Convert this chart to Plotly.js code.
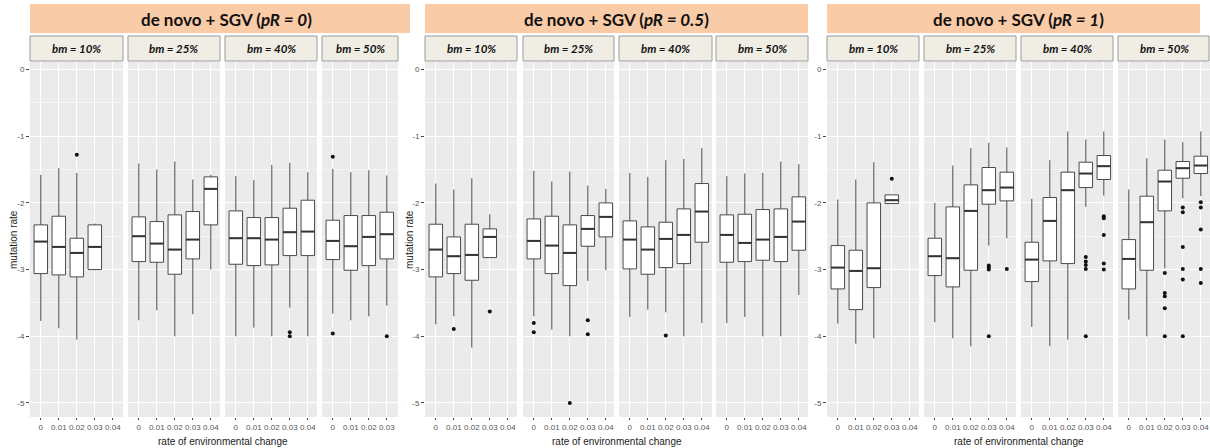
<!DOCTYPE html>
<html>
<head>
<meta charset="utf-8">
<script src="https://cdn.plot.ly/plotly-3.0.1.min.js"></script>
<style>html,body{margin:0;padding:0;background:#fff;}#chart{width:1210px;height:448px;}</style>
</head>
<body>
<div id="chart"></div>
<script>
// ---------- DATA ----------
const envRates = ['0', '0.01', '0.02', '0.03', '0.04'];
const bmLabels = ['bm = 10%', 'bm = 25%', 'bm = 40%', 'bm = 50%'];
const panelTitles = ['de novo + SGV (<i>pR = 0</i>)', 'de novo + SGV (<i>pR = 0.5</i>)', 'de novo + SGV (<i>pR = 1</i>)'];
const yTitle = 'mutation rate';
const xTitle = 'rate of environmental change';

// pR = 0  (each row = one bm facet, columns = rate of environmental change)
const pR0_lower = [[-3.77,-3.88,-4.05,-3.01,null],[-3.76,-3.61,-4.00,-3.67,-3.00],[-4.00,-3.87,-4.00,-3.57,-4.00],[-3.66,-3.76,-3.70,-3.54,null]];
const pR0_q1    = [[-3.06,-3.08,-3.11,-3.00,null],[-2.88,-2.89,-3.07,-2.84,-2.33],[-2.92,-2.94,-2.93,-2.79,-2.79],[-2.85,-3.01,-2.94,-2.84,null]];
const pR0_med   = [[-2.58,-2.66,-2.75,-2.66,null],[-2.50,-2.61,-2.70,-2.55,-1.79],[-2.53,-2.53,-2.55,-2.44,-2.43],[-2.57,-2.65,-2.51,-2.47,null]];
const pR0_q3    = [[-2.33,-2.20,-2.53,-2.33,null],[-2.21,-2.28,-2.18,-2.13,-1.61],[-2.12,-2.22,-2.22,-2.08,-1.96],[-2.26,-2.19,-2.19,-2.14,null]];
const pR0_upper = [[-1.58,-1.48,-1.55,-2.31,null],[-1.41,-1.50,-1.38,-1.65,-1.58],[-1.60,-1.66,-1.43,-1.40,-1.54],[-1.49,-1.54,-1.51,-1.59,null]];
const pR0_outliers = [[0,2,-1.28],[2,3,-3.94],[2,3,-4.00],[3,0,-1.31],[3,0,-3.96],[3,3,-4.00]];

// pR = 0.5
const pR05_lower = [[-3.82,-3.70,-4.17,-2.82,null],[-3.70,-3.90,-4.00,-3.17,-3.01],[-3.71,-3.60,-3.64,-4.00,-3.80],[-3.80,-3.71,-4.00,-4.00,-3.38]];
const pR05_q1    = [[-3.11,-3.06,-3.16,-2.82,null],[-2.84,-3.06,-3.24,-2.65,-2.51],[-2.99,-3.07,-2.97,-2.91,-2.59],[-2.89,-2.88,-2.86,-2.88,-2.71]];
const pR05_med   = [[-2.70,-2.80,-2.78,-2.51,null],[-2.57,-2.64,-2.75,-2.39,-2.21],[-2.55,-2.70,-2.54,-2.48,-2.13],[-2.48,-2.60,-2.55,-2.51,-2.28]];
const pR05_q3    = [[-2.32,-2.51,-2.32,-2.39,null],[-2.24,-2.20,-2.33,-2.19,-2.00],[-2.27,-2.36,-2.29,-2.09,-1.71],[-2.18,-2.17,-2.10,-2.09,-1.91]];
const pR05_upper = [[-1.71,-1.80,-1.63,-2.17,null],[-1.52,-1.68,-1.53,-1.74,-1.79],[-1.55,-1.61,-1.36,-1.34,-1.18],[-1.60,-1.56,-1.55,-1.38,-1.42]];
const pR05_outliers = [[0,1,-3.89],[0,3,-3.63],[1,0,-3.80],[1,0,-3.94],[1,2,-5.00],[1,3,-3.76],[1,3,-3.97],[2,2,-3.99]];

// pR = 1
const pR1_lower = [[-3.81,-4.11,-4.03,-2.01,null],[-3.79,-4.03,-4.15,-2.64,-2.53],[-3.86,-4.15,-4.05,-2.06,-1.89],[-3.75,-4.00,-2.98,-1.93,-1.90]];
const pR1_q1    = [[-3.29,-3.60,-3.27,-2.01,null],[-3.09,-3.26,-3.01,-2.02,-1.97],[-3.18,-2.87,-2.91,-1.77,-1.65],[-3.29,-3.01,-2.12,-1.63,-1.56]];
const pR1_med   = [[-2.97,-3.02,-2.98,-1.96,null],[-2.80,-2.83,-2.12,-1.81,-1.77],[-2.85,-2.27,-1.81,-1.56,-1.45],[-2.84,-2.29,-1.68,-1.48,-1.44]];
const pR1_q3    = [[-2.64,-2.71,-2.00,-1.88,null],[-2.53,-2.06,-1.73,-1.47,-1.54],[-2.59,-1.92,-1.54,-1.39,-1.29],[-2.55,-1.90,-1.51,-1.38,-1.30]];
const pR1_upper = [[-1.95,-1.65,-1.39,-1.88,null],[-2.00,-1.44,-1.18,-1.10,-1.17],[-1.94,-1.36,-0.93,-1.05,-0.93],[-1.80,-1.33,-1.05,-1.09,-0.93]];
const pR1_outliers = [[0,3,-1.64],[1,3,-2.94],[1,3,-2.97],[1,3,-3.00],[1,3,-4.00],[1,4,-2.99],
  [2,3,-2.81],[2,3,-2.88],[2,3,-2.93],[2,3,-2.99],[2,3,-4.00],[2,4,-2.20],[2,4,-2.23],[2,4,-2.48],[2,4,-2.91],[2,4,-3.00],
  [3,2,-3.05],[3,2,-3.35],[3,2,-3.40],[3,2,-3.58],[3,2,-4.00],[3,3,-2.07],[3,3,-2.14],[3,3,-2.66],[3,3,-2.99],[3,3,-3.15],[3,3,-4.00],
  [3,4,-1.99],[3,4,-2.07],[3,4,-2.40],[3,4,-2.99],[3,4,-3.20]];

const panels = [
  {lower: pR0_lower, q1: pR0_q1, med: pR0_med, q3: pR0_q3, upper: pR0_upper, out: pR0_outliers},
  {lower: pR05_lower, q1: pR05_q1, med: pR05_med, q3: pR05_q3, upper: pR05_upper, out: pR05_outliers},
  {lower: pR1_lower, q1: pR1_q1, med: pR1_med, q3: pR1_q3, upper: pR1_upper, out: pR1_outliers}
];

// ---------- LAYOUT GEOMETRY (pixels) ----------
const W = 1210, H = 448;
const facetPx = [
  [[30,123],[128,220],[225,317],[322,398]],
  [[425,517],[523,614],[619,712],[716,808]],
  [[827,919],[924,1016],[1021,1113],[1118,1210]]
];
const headerPx = [[30,410],[425,808],[827,1200]];
const plotTop = 62, plotBot = 417;
const pxPerCat = 18;
const BOXW = 0.75;

const px = v => v / W;
const py = v => (H - v) / H;

const traces = [];
const layout = {
  width: W, height: H,
  margin: {l:0, r:0, t:0, b:0},
  paper_bgcolor: '#ffffff',
  plot_bgcolor: '#EBEBEB',
  showlegend: false,
  shapes: [], annotations: [],
  font: {family: 'Liberation Sans, Arial, sans-serif', color: '#4D4D4D'}
};

const yDomain = [py(plotBot), py(plotTop)];
const yRange = [-5.21, 0.112];

panels.forEach((P, p) => {
  const yName = p === 0 ? 'y' : 'y' + (p + 1);
  const yKey = p === 0 ? 'yaxis' : 'yaxis' + (p + 1);
  const firstX = p === 0 ? 'x' : 'x' + (p * 4 + 1);
  layout[yKey] = {
    domain: yDomain, range: yRange, anchor: firstX,
    tickvals: [0,-1,-2,-3,-4,-5], ticktext: ['0','-1','-2','-3','-4','-5'],
    ticks: 'outside', ticklen: 3, tickwidth: 1, tickcolor: '#444',
    tickfont: {size: 8, color: '#555'},
    showgrid: true, gridcolor: '#ffffff', gridwidth: 1,
    minor: {tickvals: [-0.5,-1.5,-2.5,-3.5,-4.5], showgrid: true, gridcolor: '#ffffff', gridwidth: 0.5, ticks: ''},
    zeroline: false, showline: false, fixedrange: true
  };

  for (let f = 0; f < 4; f++) {
    const idx = p * 4 + f + 1;
    const xName = idx === 1 ? 'x' : 'x' + idx;
    const xKey = idx === 1 ? 'xaxis' : 'xaxis' + idx;
    const [a, b] = facetPx[p][f];
    const lo = -0.6;
    const hi = lo + (b - a) / pxPerCat;
    layout[xKey] = {
      domain: [px(a), px(b)], range: [lo, hi], anchor: yName,
      tickvals: [0,1,2,3,4], ticktext: envRates, tickangle: 0,
      ticks: 'outside', ticklen: 2, tickwidth: 1, tickcolor: '#444',
      tickfont: {size: 8, color: '#555'},
      showgrid: true, gridcolor: '#ffffff', gridwidth: 1,
      zeroline: false, showline: false, fixedrange: true
    };

    // boxes
    const xs = [], q1 = [], md = [], q3 = [], lf = [], uf = [];
    for (let c = 0; c < envRates.length; c++) {
      if (P.med[f][c] === null) continue;
      xs.push(c); q1.push(P.q1[f][c]); md.push(P.med[f][c]); q3.push(P.q3[f][c]);
      lf.push(P.lower[f][c]); uf.push(P.upper[f][c]);
    }
    traces.push({
      type: 'box', xaxis: xName, yaxis: yName,
      x: xs, q1: q1, median: md, q3: q3, lowerfence: lf, upperfence: uf,
      width: BOXW, whiskerwidth: 0, boxpoints: false,
      fillcolor: '#ffffff', line: {color: '#4a4a4a', width: 1},
      hoverinfo: 'skip'
    });
    // thicker median bars
    const mx = [], my = [];
    xs.forEach((c, i) => { mx.push(c - BOXW/2, c + BOXW/2, null); my.push(md[i], md[i], null); });
    traces.push({
      type: 'scatter', mode: 'lines', xaxis: xName, yaxis: yName,
      x: mx, y: my, line: {color: '#333333', width: 2}, hoverinfo: 'skip', cliponaxis: true
    });
    // outliers
    const ox = [], oy = [];
    P.out.forEach(o => { if (o[0] === f) { ox.push(o[1]); oy.push(o[2]); } });
    if (ox.length) {
      traces.push({
        type: 'scatter', mode: 'markers', xaxis: xName, yaxis: yName,
        x: ox, y: oy, marker: {color: '#111111', size: 4}, hoverinfo: 'skip'
      });
    }

    // strip
    layout.shapes.push({
      type: 'rect', xref: 'paper', yref: 'paper',
      x0: px(a), x1: px(Math.min(b, W - 1)), y0: py(61), y1: py(36),
      fillcolor: '#EFEDE4', line: {color: '#9a9a9a', width: 1}, layer: 'above'
    });
    layout.annotations.push({
      xref: 'paper', yref: 'paper', x: px((a + b) / 2), y: py(48.5),
      text: '<b><i>' + bmLabels[f] + '</i></b>', showarrow: false,
      font: {family: 'Lato, Open Sans, sans-serif', size: 11.5, color: '#111'},
      xanchor: 'center', yanchor: 'middle'
    });
  }

  // panel header
  const [h0, h1] = headerPx[p];
  layout.shapes.push({
    type: 'rect', xref: 'paper', yref: 'paper',
    x0: px(h0), x1: px(h1), y0: py(33), y1: py(4),
    fillcolor: '#F9CBA7', line: {width: 0}, layer: 'below'
  });
  layout.annotations.push({
    xref: 'paper', yref: 'paper', x: px((facetPx[p][0][0] + facetPx[p][3][1]) / 2 + (p === 0 ? 12 : 0)), y: py(19),
    text: '<b>' + panelTitles[p] + '</b>', showarrow: false,
    font: {family: 'Lato, Open Sans, sans-serif', size: 17, color: '#111'},
    xanchor: 'center', yanchor: 'middle'
  });
  // x-axis title
  layout.annotations.push({
    xref: 'paper', yref: 'paper', x: px((facetPx[p][1][1] + facetPx[p][2][0]) / 2), y: py(448),
    text: xTitle, showarrow: false,
    font: {family: 'Liberation Sans, Arial, sans-serif', size: 10, color: '#222'},
    xanchor: 'center', yanchor: 'bottom', yshift: -1
  });
  // y-axis title (first two panels show one)
  if (p < 2) {
    layout.annotations.push({
      xref: 'paper', yref: 'paper', x: px(p === 0 ? 13 : 409), y: py(240),
      text: yTitle, showarrow: false, textangle: -90,
      font: {family: 'Liberation Sans, Arial, sans-serif', size: 10, color: '#222'},
      xanchor: 'center', yanchor: 'middle'
    });
  }
});

Plotly.newPlot('chart', traces, layout, {staticPlot: true, displayModeBar: false});
</script>
</body>
</html>
